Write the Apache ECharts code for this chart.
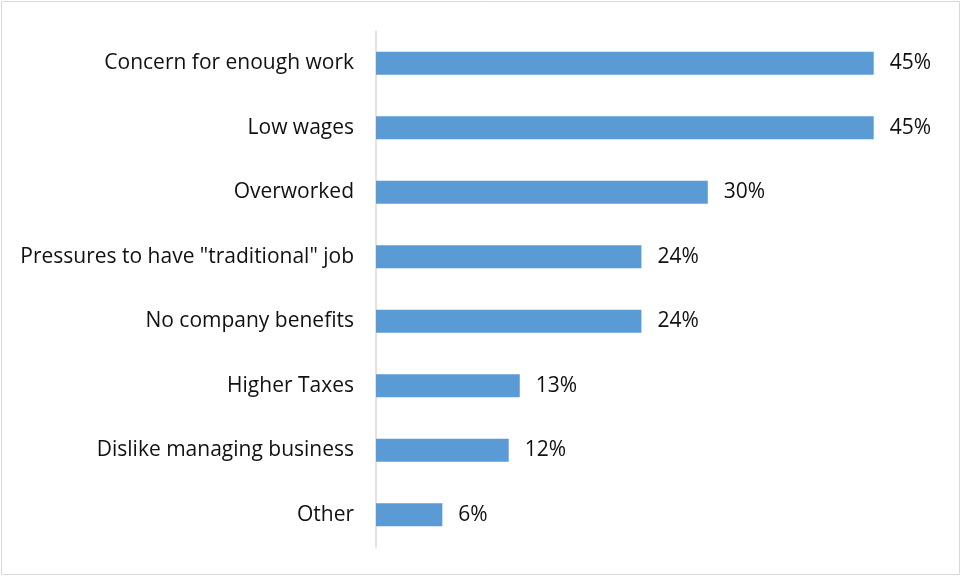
<!DOCTYPE html>
<html>
<head>
<meta charset="utf-8">
<script src="https://cdn.jsdelivr.net/npm/echarts@6/dist/echarts.min.js"></script>
<style>
  html, body { margin: 0; padding: 0; background: #fff; }
  #chart { width: 962px; height: 576px; }
</style>
</head>
<body>
<div id="chart"></div>
<script>
// Reasons cited, share of respondents (%)
const categories = [
  'Concern for enough work',
  'Low wages',
  'Overworked',
  'Pressures to have "traditional" job',
  'No company benefits',
  'Higher Taxes',
  'Dislike managing business',
  'Other'
];
const values = [45, 45, 30, 24, 24, 13, 12, 6];

const font = '"Open Sans", "Noto Sans", sans-serif';
const chart = echarts.init(document.getElementById('chart'), null, { renderer: 'canvas' });

chart.setOption({
  animation: false,
  backgroundColor: '#ffffff',
  graphic: [{
    type: 'rect',
    shape: { x: 1.5, y: 1.5, width: 958, height: 573 },
    style: { fill: 'none', stroke: '#d9d9d9', lineWidth: 1 },
    silent: true
  }],
  grid: { left: 376, top: 31, width: 553, height: 516, containLabel: false },
  xAxis: {
    type: 'value',
    min: 0,
    max: 50,
    show: false
  },
  yAxis: {
    type: 'category',
    data: categories,
    inverse: true,
    axisLine: { show: true, lineStyle: { color: '#d9d9d9', width: 1.5 } },
    axisTick: { show: false },
    axisLabel: {
      color: '#111',
      fontFamily: font,
      fontSize: 21,
      margin: 22
    }
  },
  series: [{
    type: 'bar',
    data: values,
    barWidth: 23,
    itemStyle: { color: '#5b9bd5' },
    label: {
      show: true,
      position: 'right',
      distance: 16,
      color: '#111',
      fontFamily: font,
      fontSize: 21,
      formatter: p => p.value + '%'
    }
  }]
});
</script>
</body>
</html>
